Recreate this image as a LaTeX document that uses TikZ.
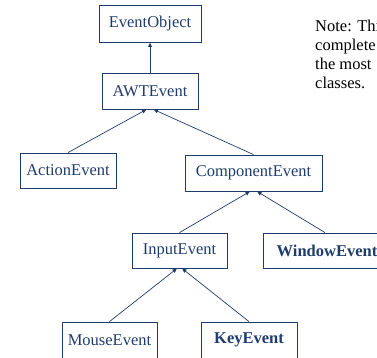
\documentclass[tikz,border=0pt]{standalone}
\usepackage{fontspec}
\setmainfont{Liberation Serif}
\usetikzlibrary{arrows.meta,calc}
\definecolor{navy}{RGB}{32,60,108}
\tikzset{
  cls/.style={draw=navy, line width=0.85pt, text=navy, minimum height=36pt, inner sep=0pt, font=\fontsize{16.5}{19}\selectfont},
  bcls/.style={cls, font=\fontsize{16.5}{19}\selectfont\bfseries},
  inh/.style={draw=navy, line width=0.7pt, -{Latex[length=4.5pt,width=4.5pt]}},
  note/.style={anchor=base west, inner sep=0pt, text=black, font=\fontsize{16.5}{19}\selectfont}
}
\begin{document}
\begin{tikzpicture}[x=1pt,y=-1pt]
\useasboundingbox (0,0) rectangle (377,357);
\clip (0,0) rectangle (377,357);
\node[cls, minimum width=102pt, minimum height=37pt] (eo) at (150,23.5) {EventObject};
\node[cls, minimum width=96pt] (awt) at (150,91) {AWTEvent};
\node[cls, minimum width=96pt, minimum height=35pt] (ae) at (68,170.5) {ActionEvent};
\node[cls, minimum width=137pt] (ce) at (253.5,173) {ComponentEvent};
\node[cls, minimum width=95pt, minimum height=35pt] (ie) at (179.5,250.5) {InputEvent};
\node[bcls, minimum width=128pt, minimum height=35pt] (we) at (327,250.5) {WindowEvent};
\node[cls, minimum width=95pt] (me) at (109.5,340) {MouseEvent};
\node[bcls, minimum width=96pt] (ke) at (249,340) {KeyEvent};
\draw[inh] (awt.north) -- (eo.south);
\draw[inh] (ae.north) -- ($(awt.south)+(-3.5,0)$);
\draw[inh] (ce.north) -- ($(awt.south)+(3.5,0)$);
\draw[inh] (ie.north) -- ($(ce.south)+(-3.5,0)$);
\draw[inh] ($(we.north)+(-2,0)$) -- ($(ce.south)+(3.5,0)$);
\draw[inh] (me.north) -- ($(ie.south)+(-2.5,0)$);
\draw[inh] (ke.north) -- ($(ie.south)+(2.5,0)$);
\node[note] (n1) at (315,31) {Note: This};
\node[note] (n2) at (315,50) {complete};
\node[note] (n3) at (315,69) {the most};
\node[note] (n4) at (315,88) {classes.};
\end{tikzpicture}
\end{document}
